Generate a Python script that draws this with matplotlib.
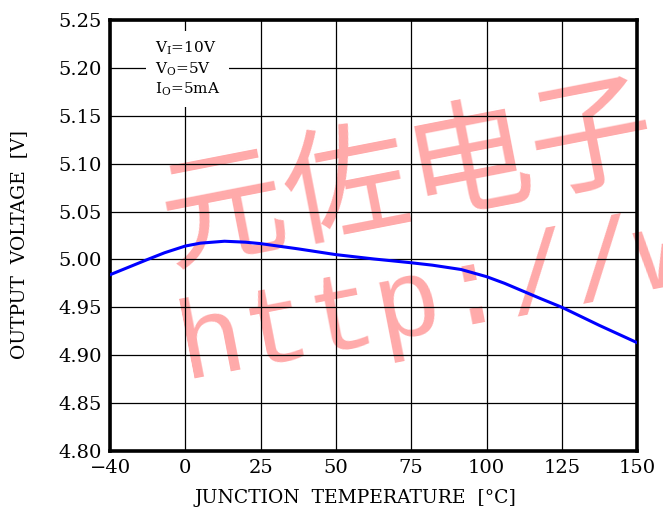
import numpy as np
import matplotlib.pyplot as plt

# junction temperature [C] vs output voltage [V]
temp = [-40, -30, -20, -11, 0, 5, 13, 20, 25, 37.5, 50, 62.5, 75, 82, 91.5, 100, 106, 112, 118, 125, 137.5, 150]
vout = [4.984, 4.992, 5.000, 5.007, 5.014, 5.017, 5.019, 5.018, 5.0165, 5.011, 5.005, 5.0005, 4.9965,
        4.994, 4.9895, 4.982, 4.975, 4.967, 4.959, 4.950, 4.931, 4.913]

xticks = [-40, 0, 25, 50, 75, 100, 125, 150]
xtick_labels = ['\u221240', '0', '25', '50', '75', '100', '125', '150']
yticks = [4.80, 4.85, 4.90, 4.95, 5.00, 5.05, 5.10, 5.15, 5.20, 5.25]

plt.rcParams['font.family'] = ['DejaVu Serif']
plt.rcParams['mathtext.fontset'] = 'dejavuserif'


# the -40..0 span is drawn the same width as one 25 degree step
def fwd(x):
    x = np.asarray(x, dtype=float)
    return np.where(x < 0, x * 25 / 40, x)


def inv(x):
    x = np.asarray(x, dtype=float)
    return np.where(x < 0, x * 40 / 25, x)


fig = plt.figure(figsize=(6.63, 5.17), dpi=100)
ax = fig.add_axes([0.166, 0.128, 0.795, 0.833])
ax.set_xscale('function', functions=(fwd, inv))

ax.plot(temp, vout, color='#0000ff', lw=2.2, zorder=4)

ax.set_xlim(-40, 150)
ax.set_ylim(4.80, 5.25)
ax.set_xticks(xticks)
ax.set_xticklabels(xtick_labels)
ax.set_yticks(yticks)
ax.set_yticklabels(['%.2f' % v for v in yticks])
ax.xaxis.set_minor_locator(plt.NullLocator())
ax.tick_params(length=0, labelsize=14, pad=6)
ax.grid(True, color='black', lw=0.9, zorder=0.5)
ax.set_axisbelow(True)
for s in ax.spines.values():
    s.set_linewidth(2.6)

ax.set_xlabel('JUNCTION  TEMPERATURE  [\u00b0C]', fontsize=13.5)
ax.xaxis.set_label_coords(0.465, -0.088)
ax.set_ylabel('OUTPUT  VOLTAGE  [V]', fontsize=13.5)
ax.yaxis.set_label_coords(-0.155, 0.478)

ax.text(0.085, 0.955, 'V$_\\mathrm{I}$=10V\nV$_\\mathrm{O}$=5V\nI$_\\mathrm{O}$=5mA',
        transform=ax.transAxes, fontsize=11, va='top', ha='left', linespacing=1.25,
        bbox=dict(facecolor='white', edgecolor='none', pad=6), zorder=5)

# pink watermark, under the grid and the curve (runs off the right edge as in the original)
ax.text(0.256, 0.493, '元佐电子', fontsize=90, color='#ffaaaa', rotation=11,
        rotation_mode='anchor', family=['Noto Sans CJK SC', 'DejaVu Sans'],
        ha='left', va='baseline', transform=fig.transFigure, clip_on=False, zorder=0.3)
ax.text(0.279, 0.269, 'http://w', fontsize=80, color='#ffaaaa', rotation=11,
        rotation_mode='anchor', family=['Liberation Mono'],
        ha='left', va='baseline', transform=fig.transFigure, clip_on=False, zorder=0.3)

fig.savefig('out.png', dpi=100)
